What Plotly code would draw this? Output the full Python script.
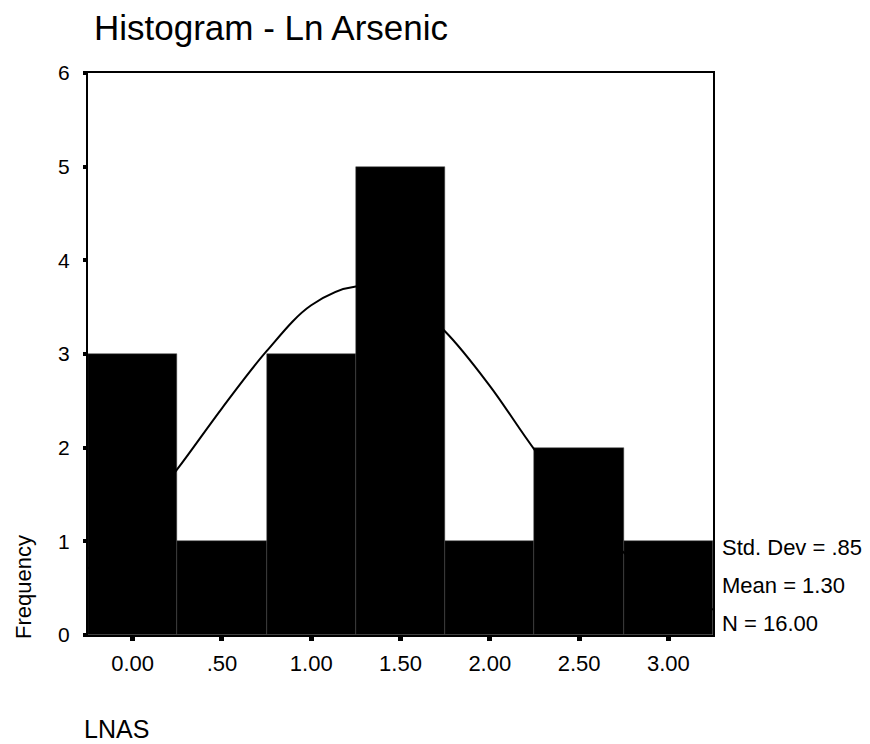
import plotly.graph_objects as go

# Histogram bins (bin centres) and frequencies
bin_centers = [0.0, 0.5, 1.0, 1.5, 2.0, 2.5, 3.0]
frequencies = [3, 1, 3, 5, 1, 2, 1]

# Fitted normal curve
curve_x = [-0.25, 0.0, 0.25, 0.5, 0.75, 1.0, 1.25, 1.5, 1.75, 2.0, 2.25, 2.5, 2.75, 3.0, 3.25]
curve_y = [0.71, 1.17, 1.77, 2.42, 3.03, 3.52, 3.72, 3.64, 3.24, 2.66, 1.98, 1.39, 0.88, 0.51, 0.27]

tick_vals = [0.0, 0.5, 1.0, 1.5, 2.0, 2.5, 3.0]
tick_text = ["0.00", ".50", "1.00", "1.50", "2.00", "2.50", "3.00"]
y_ticks = [0, 1, 2, 3, 4, 5, 6]

stats_lines = ["Std. Dev = .85", "Mean = 1.30", "N = 16.00"]

FONT = "Liberation Sans, Arial, sans-serif"

# page body has an 8px margin; figure is sized to fit the window
OFF = 8
W, H = 870 - OFF, 744 - OFF
PL, PR, PT, PB = 88 - OFF, 713 - OFF, 73 - OFF, 635 - OFF
PW, PH = PR - PL, PB - PT


def px(xp):
    return (xp - OFF - PL) / PW


def py(yp):
    return (PB - (yp - OFF)) / PH


fig = go.Figure()
fig.add_trace(go.Bar(
    x=bin_centers, y=frequencies, width=0.5,
    marker=dict(color="black", line=dict(color="#444444", width=0.5)),
    showlegend=False, hoverinfo="x+y",
))
fig.add_trace(go.Scatter(
    x=curve_x, y=curve_y, mode="lines",
    line=dict(color="black", width=2, shape="spline"),
    showlegend=False,
))

fig.update_layout(
    width=W, height=H,
    margin=dict(l=PL, r=W - PR, t=PT, b=H - PB),
    paper_bgcolor="white", plot_bgcolor="white",
    bargap=0,
    font=dict(family=FONT, color="black"),
    xaxis=dict(range=[-0.25, 3.25], tickvals=tick_vals, ticktext=tick_text,
               showgrid=False, zeroline=False, showline=True, linecolor="black",
               linewidth=2, mirror=True, ticks="outside", ticklen=4, tickwidth=5,
               tickcolor="black", tickfont=dict(size=22, family=FONT),
               ticklabelstandoff=4),
    yaxis=dict(range=[0, 6], tickvals=y_ticks, showgrid=False, zeroline=False,
               showline=True, linecolor="black", linewidth=2, mirror=True,
               ticks="outside", ticklen=3, tickwidth=4, tickcolor="black",
               tickfont=dict(size=21, family=FONT), ticklabelstandoff=9),
)

# Title as an annotation, kept clear of the page edge
fig.add_annotation(text="Histogram - Ln Arsenic", xref="paper", yref="paper",
                   x=px(92), y=py(28), showarrow=False,
                   font=dict(size=35, family=FONT, color="black"),
                   xanchor="left", yanchor="middle")
# Y axis label (placed low, as in the original)
fig.add_annotation(text="Frequency", xref="paper", yref="paper",
                   x=px(23), y=py(587), textangle=-90,
                   showarrow=False, font=dict(size=22, family=FONT),
                   xanchor="center", yanchor="middle")
# X axis label
fig.add_annotation(text="LNAS", xref="paper", yref="paper",
                   x=px(82), y=py(729), showarrow=False,
                   font=dict(size=25, family=FONT), xanchor="left", yanchor="middle")
# Stats text
for i, line in enumerate(stats_lines):
    fig.add_annotation(text=line, xref="paper", yref="paper",
                       x=px(720), y=py(547 + 38 * i),
                       showarrow=False, font=dict(size=22, family=FONT),
                       xanchor="left", yanchor="middle")

fig.write_html("out.html")
